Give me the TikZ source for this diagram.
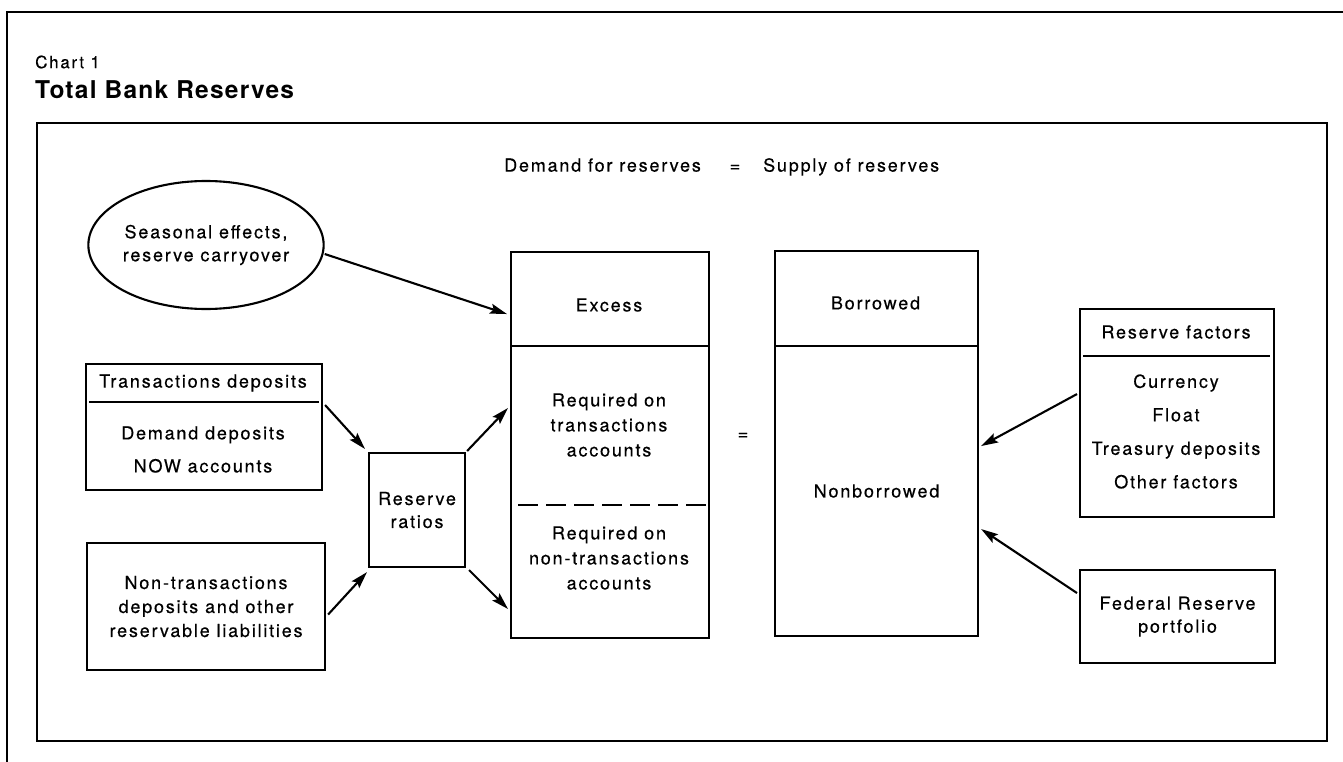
\documentclass[tikz,border=0pt]{standalone}
\usepackage{fontspec}
\setmainfont{TeX Gyre Heros}
\newfontfamily\lab{TeX Gyre Heros}[LetterSpace=10,FakeBold=0.4]
\newfontfamily\ttl{TeX Gyre Heros}[LetterSpace=5]
\usetikzlibrary{arrows.meta,calc,shapes.geometric}
\begin{document}
\begin{tikzpicture}[x=1pt,y=-1pt,
  frame/.style={line width=1.5pt},
  box/.style={draw,line width=2.1pt,inner sep=0pt,anchor=north west},
  txt/.style={inner sep=0pt,align=center,font=\lab\fontsize{18}{24}\selectfont},
  arr/.style={line width=2.1pt,-{Stealth[length=17pt,width=10pt,inset=3pt]}},
  divider/.style={line width=2.3pt},
]
\useasboundingbox (0,0) rectangle (1343,762);
\fill[white] (0,0) rectangle (1343,762);
% page edges
\draw[frame] (7,762) -- (7,12) -- (1343,12);
% titles
\node[anchor=west,inner sep=0pt,font=\lab\fontsize{17}{20}\selectfont] (chart) at (35,62) {Chart 1};
\node[anchor=west,inner sep=0pt,font=\ttl\bfseries\fontsize{24.5}{28}\selectfont] (title) at (35,90) {Total Bank Reserves};
% inner frame
\draw[frame] (37,123) rectangle (1327,741);
% header
\node[txt,anchor=mid west] (dem) at (504,169) {Demand for reserves};
\node[txt,anchor=mid] (eqh) at (735,169) {=};
\node[txt,anchor=mid west] (sup) at (763,169) {Supply of reserves};
% ellipse
\node[draw,ellipse,line width=2.1pt,minimum width=228pt,minimum height=128pt,inner sep=0pt,align=center,font=\lab\fontsize{18}{23}\selectfont] (ell) at (206,245) {Seasonal effects,\\reserve carryover};
% demand column
\node[box,minimum width=198pt,minimum height=94pt] (excess) at (510,251) {};
\node[txt] (excesst) at (609,305) {Excess};
\node[box,minimum width=198pt,minimum height=292pt] (req) at (510,345) {};
\node[txt,font=\lab\fontsize{18}{25}\selectfont] (reqt) at (609,425) {Required on\\transactions\\accounts};
\node[txt,font=\lab\fontsize{18}{25}\selectfont] (reqn) at (609,558) {Required on\\non-transactions\\accounts};
\draw[line width=2.1pt,dash pattern=on 20pt off 8pt] ($(req.north west)+(8,160)$) -- ($(req.north east)+(-4,160)$);
% equal sign
\node[txt,anchor=mid] (eqm) at (743,437) {=};
% supply column
\node[box,minimum width=203pt,minimum height=95pt] (bor) at (774,250) {};
\node[txt] (bort) at (875.5,303) {Borrowed};
\node[box,txt,anchor=north west,minimum width=203pt,minimum height=290pt] (nb) at (774,345) {Nonborrowed};
% transactions deposits
\node[box,minimum width=236pt,minimum height=126pt] (trans) at (85,363) {};
\node[txt] (transt) at (203,383) {Transactions deposits};
\draw[divider] ($(trans.north west)+(4,39)$) -- ($(trans.north east)+(-4,39)$);
\node[txt,font=\lab\fontsize{18}{33}\selectfont] (transl) at (203,449.5) {Demand deposits\\NOW accounts};
% non-transactions
\node[box,txt,anchor=north west,minimum width=238pt,minimum height=127pt] (nt) at (86,542) {Non-transactions\\deposits and other\\reservable liabilities};
% reserve ratios
\node[box,txt,anchor=north west,font=\lab\fontsize{18}{23}\selectfont,minimum width=96pt,minimum height=114pt] (rr) at (368,452) {Reserve\\ratios};
% reserve factors
\node[box,minimum width=194pt,minimum height=208pt] (rf) at (1079,308) {};
\node[txt] (rft) at (1176,332) {Reserve factors};
\draw[divider] ($(rf.north west)+(4,48)$) -- ($(rf.north east)+(-5,48)$);
\node[txt,font=\lab\fontsize{18}{33.5}\selectfont] (rfl) at (1176,431.5) {Currency\\Float\\Treasury deposits\\Other factors};
% federal reserve portfolio
\node[box,txt,anchor=north west,font=\lab\fontsize{18}{23}\selectfont,minimum width=195pt,minimum height=93pt] (fed) at (1079,569) {Federal Reserve\\portfolio};
% arrows
\draw[arr] ($(ell.east)+(0,9)$) -- ($(excess.west)+(-3,15)$);
\draw[arr] ($(trans.east)+(2,-22)$) -- ($(rr.north west)+(-3,-3)$);
\draw[arr] ($(nt.east)+(2,8)$) -- ($(rr.south west)+(-1,4)$);
\draw[arr] ($(rr.north east)+(1,-1)$) -- ($(req.north west)+(-2,63)$);
\draw[arr] ($(rr.south east)+(3,2)$) -- ($(req.north west)+(-2,264)$);
\draw[arr] ($(rf.west)+(-2,-19)$) -- ($(nb.east)+(2,-45)$);
\draw[arr] ($(fed.west)+(-2,-23.5)$) -- ($(nb.east)+(2,38)$);
\end{tikzpicture}
\end{document}
